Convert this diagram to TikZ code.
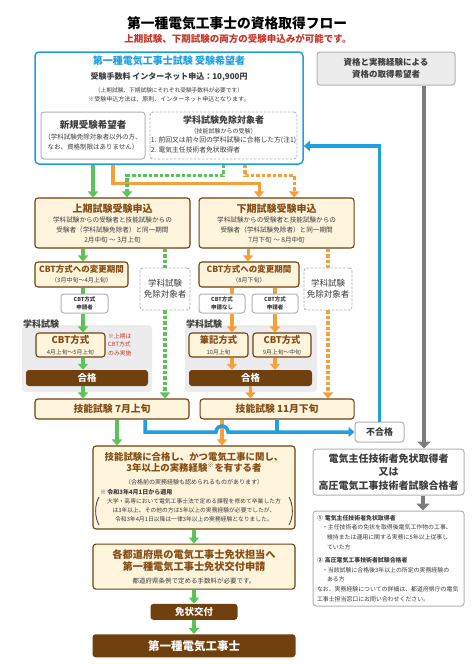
\documentclass[tikz,border=0pt]{standalone}
\usepackage{fontspec}
\setmainfont{Noto Sans CJK JP}
\usepackage{xcolor}
\usetikzlibrary{arrows.meta, positioning}
\definecolor{flowblue}{RGB}{29,161,226}
\definecolor{flowgreen}{RGB}{92,195,88}
\definecolor{floworange}{RGB}{246,160,60}
\definecolor{flowbrown}{RGB}{112,64,14}
\definecolor{brownhead}{RGB}{133,76,22}
\definecolor{flowcream}{RGB}{255,244,220}
\definecolor{flowred}{RGB}{200,52,40}
\definecolor{flowgray}{RGB}{125,125,125}
\definecolor{linegray}{RGB}{178,178,178}
\definecolor{boxgray}{RGB}{236,236,236}
\definecolor{areagray}{RGB}{236,236,238}
\definecolor{textdark}{RGB}{60,60,60}
\newcommand{\fsz}[2]{\fontsize{#1}{#2}\selectfont}

\tikzset{
  appbox/.style={draw=flowbrown, line width=1.1pt, rounded corners=3pt, fill=flowcream,
    align=center, inner sep=0pt, text=textdark},
  graybox/.style={draw=linegray, line width=1pt, rounded corners=3pt, fill=white,
    align=center, inner sep=0pt, text=textdark},
  dashbox/.style={draw=linegray, line width=0.9pt, dash pattern=on 2.5pt off 1.5pt,
    rounded corners=3pt, fill=white, align=center, inner sep=0pt, text=textdark},
  passbar/.style={fill=flowbrown, rounded corners=3pt, inner sep=0pt, text=white,
    font=\fsz{9.5}{11}\bfseries},
  areabg/.style={fill=areagray, rounded corners=4pt, inner sep=0pt},
  arealabel/.style={text=textdark, inner sep=0pt, font=\fsz{9}{11}\bfseries},
  greenline/.style={draw=flowgreen, line width=3.2pt},
  greendash/.style={greenline, dash pattern=on 3.5pt off 2pt},
  orangeline/.style={draw=floworange, line width=3.2pt},
  orangedash/.style={orangeline, dash pattern=on 3.5pt off 2pt},
  blueline/.style={draw=flowblue, line width=3.5pt},
  grayline/.style={draw=flowgray, line width=4.5pt},
  flowtip/.style={-{Triangle[length=6pt, width=10pt]}},
  graytip/.style={-{Triangle[length=7pt, width=13pt]}},
}

\begin{document}
\begin{tikzpicture}[x=1pt, y=-1pt]
  \fill[white] (0,0) rectangle (474,664);
  \useasboundingbox (0,0) rectangle (474,664);

  \node[font=\fsz{13.75}{16}\bfseries] (title) at (237,23) {第一種電気工事士の資格取得フロー};
  \node[font=\fsz{9.5}{11}\bfseries, text=flowred] (subtitle) at (238,38.5)
    {上期試験、下期試験の両方の受験申込みが可能です。};

  \node[draw=flowblue, line width=1.5pt, rounded corners=4pt, fill=white, minimum width=268pt,
        minimum height=112pt, inner sep=0pt] (applicant) at (169,108) {};
  \node[anchor=north, align=center, inner sep=0pt, text=textdark, font=\fsz{6}{9}] (appText) at (169,56)
    {{\fsz{10}{12}\bfseries\color{flowblue}第一種電気工事士試験 受験希望者}\\[6pt]
     {\fsz{8}{10}\bfseries 受験手数料 インターネット申込：10,900円}\\[4pt]
     {\fsz{5.7}{9}（上期試験、下期試験にそれぞれ受験手数料が必要です）}\\
     ※受験申込方法は、原則、インターネット申込となります。};
  \node[graybox, minimum width=104pt, minimum height=47pt, font=\fsz{6.5}{10}] (newcomer) at (93,135.5)
    {{\fsz{9.5}{11}\bfseries 新規受験希望者}\\[1pt]（学科試験免除対象者以外の方、\\なお、資格制限はありません）};
  \node[dashbox, minimum width=147pt, minimum height=47pt, font=\fsz{6}{10}] (exempt) at (223.5,135.5)
    {{\fsz{9}{11}\bfseries 学科試験免除対象者}\\（技能試験からの受験）\\
     {\fsz{6.8}{10.5}\begin{tabular}{@{}l@{}}1. 前回又は前々回の学科試験に合格した方(注1)\\
      2. 電気主任技術者免状取得者\end{tabular}}};

  \node[graybox, fill=boxgray, minimum width=138pt, minimum height=33pt, font=\fsz{8.5}{12}\bfseries]
    (career) at (386,68.5) {資格と実務経験による\\資格の取得希望者};

  \node[appbox, minimum width=155pt, minimum height=50pt, font=\fsz{6.6}{10}] (kami) at (112.5,223)
    {{\fsz{10}{12}\bfseries\color{brownhead}上期試験受験申込}\\学科試験からの受験者と技能試験からの\\
     受験者（学科試験免除者）と同一期間\\2月中旬 ～ 3月上旬};
  \node[appbox, minimum width=155pt, minimum height=50pt, font=\fsz{6.6}{10}, right=8pt of kami] (shimo)
    {{\fsz{10}{12}\bfseries\color{brownhead}下期試験受験申込}\\学科試験からの受験者と技能試験からの\\
     受験者（学科試験免除者）と同一期間\\7月下旬 ～ 8月中旬};

  \node[appbox, minimum width=93pt, minimum height=25pt, font=\fsz{6}{10}] (kamiChange) at (81.5,274.5)
    {{\fsz{8.5}{10}\bfseries\color{brownhead}CBT方式への変更期間}\\（3月中旬～4月上旬）};
  \node[appbox, minimum width=100pt, minimum height=25pt, font=\fsz{6}{10}] (shimoChange) at (249,274.5)
    {{\fsz{8.5}{10}\bfseries\color{brownhead}CBT方式への変更期間}\\（8月下旬）};

  \node[graybox, minimum width=47pt, minimum height=19pt, font=\fsz{5.5}{7.5}\bfseries] (kamiApply)
    at (84.5,303.5) {CBT方式\\申請者};
  \node[graybox, minimum width=46pt, minimum height=19pt, font=\fsz{5.5}{7.5}\bfseries] (shimoNone)
    at (222,303.5) {CBT方式\\申請なし};
  \node[graybox, minimum width=46pt, minimum height=19pt, font=\fsz{5.5}{7.5}\bfseries] (shimoApply)
    at (275,303.5) {CBT方式\\申請者};
  \node[dashbox, minimum width=50pt, minimum height=42pt, font=\fsz{8.5}{11}] (kamiSkip) at (165,289)
    {学科試験\\免除対象者};
  \node[dashbox, minimum width=48pt, minimum height=42pt, font=\fsz{8.5}{11}] (shimoSkip) at (328,289)
    {学科試験\\免除対象者};

  \node[areabg, minimum width=130pt, minimum height=67pt] (kamiArea) at (87,358.5) {};
  \node[arealabel, anchor=west] (kamiAreaLabel) at (23,324) {学科試験};
  \node[areabg, minimum width=132pt, minimum height=67pt] (shimoArea) at (251,358.5) {};
  \node[arealabel, anchor=west] (shimoAreaLabel) at (186,324) {学科試験};

  \node[appbox, minimum width=69pt, minimum height=24pt, font=\fsz{5.8}{11}] (kamiCbt) at (70.5,345)
    {{\fsz{9.5}{11}\bfseries\color{brownhead}CBT方式}\\4月上旬～5月上旬};
  \node[text=flowred, align=left, inner sep=0pt, font=\fsz{5.8}{8.5}, anchor=west] (kamiNote)
    at (108,344.5) {※上期は\\CBT方式\\のみ実施};
  \node[appbox, minimum width=59pt, minimum height=24pt, font=\fsz{5.8}{11}] (shimoPaper) at (218.5,345)
    {{\fsz{9.3}{11}\bfseries\color{brownhead}筆記方式}\\10月上旬};
  \node[appbox, minimum width=58pt, minimum height=24pt, font=\fsz{5.8}{11}] (shimoCbt) at (282,345)
    {{\fsz{9.3}{11}\bfseries\color{brownhead}CBT方式}\\9月上旬～中旬};
  \node[passbar, minimum width=122pt, minimum height=16pt] (kamiPass) at (87,378) {合格};
  \node[passbar, minimum width=123pt, minimum height=16pt] (shimoPass) at (250.5,378) {合格};

  \node[appbox, minimum width=154pt, minimum height=20pt, font=\fsz{9.8}{12}\bfseries, text=brownhead]
    (skill7) at (112,409) {技能試験 7月上旬};
  \node[appbox, minimum width=154pt, minimum height=20pt, font=\fsz{9.8}{12}\bfseries, text=brownhead,
    right=10pt of skill7] (skill11) {技能試験 11月下旬};
  \node[graybox, minimum width=49pt, minimum height=20pt, font=\fsz{9}{11}\bfseries] (fail)
    at (379.5,432) {不合格};

  \node[appbox, minimum width=202pt, minimum height=83pt, font=\fsz{6}{9}] (skillpass) at (194,487.5)
    {{\fsz{9.4}{11}\bfseries\color{brownhead}技能試験に合格し、かつ電気工事に関し、}\\
     {\fsz{9.4}{11}\bfseries\color{brownhead}3年以上の実務経験\textsuperscript{※}を有する者}\\[4pt]
     （合格前の実務経験も認められるものがあります）\\[1pt]
     \makebox[188pt][l]{\bfseries ※ 令和3年4月1日から適用}\\
     {\fsz{5.8}{9}大学・高専において電気工事士法で定める課程を修めて卒業した方}\\
     {\fsz{5.8}{9}は3年以上、その他の方は5年以上の実務経験が必要でしたが、}\\
     {\fsz{5.8}{9}令和3年4月1日以降は一律3年以上の実務経験となりました。}};
  \node[appbox, minimum width=202pt, minimum height=45pt, font=\fsz{6.5}{12}, below=14pt of skillpass]
    (license) {{\fsz{10.2}{12}\bfseries\color{brownhead}各都道府県の電気工事士免状担当へ}\\
     {\fsz{10.2}{12}\bfseries\color{brownhead}第一種電気工事士免状交付申請}\\[1pt]
     都道府県条例で定める手数料が必要です。};
  \node[passbar, minimum width=87pt, minimum height=16pt, below=14pt of license] (issue) {免状交付};
  \node[passbar, minimum width=203pt, minimum height=23pt, font=\fsz{11.5}{14}\bfseries,
    below=14pt of issue] (final) {第一種電気工事士};

  \node[graybox, minimum width=151pt, minimum height=46pt, font=\fsz{10}{13.5}\bfseries] (chief)
    at (388.5,472) {電気主任技術者免状取得者\\又は\\高圧電気工事技術者試験合格者};
  \node[graybox, minimum width=151pt, minimum height=95pt, text width=143pt, align=left,
    font=\fsz{5.9}{9.8}, below=15pt of chief] (detail)
    {{\bfseries ① 電気主任技術者免状取得者}\\
     \hspace*{5pt}・主任技術者の免状を取得後電気工作物の工事、\\
     \hspace*{10pt}維持または運用に関する実務に5年以上従事し\\
     \hspace*{10pt}ていた方\\[3pt]
     {\bfseries ② 高圧電気工事技術者試験合格者}\\
     \hspace*{5pt}・当該試験に合格後3年以上の所定の実務経験の\\
     \hspace*{10pt}ある方\\
     なお、実務経験についての詳細は、都道府県庁の電気\\
     工事士担当窓口にお問い合わせください。};

  \draw[textdark, line width=0.8pt] (99,497) .. controls (94.5,505) and (94.5,517) .. (99,525);
  \draw[textdark, line width=0.8pt] (289,497) .. controls (293.5,505) and (293.5,517) .. (289,525);

  \coordinate (kamiAxis) at (83,0);
  \coordinate (shimoLeft) at (232,0);
  \coordinate (shimoRight) at (275,0);
  \coordinate (hopAxis) at (222,0);
  \coordinate (hop) at (216,432);

  \draw[orangeline, flowtip] ([xshift=20pt]newcomer.south |- applicant.south) -- ++(0,19)
    -| ([xshift=-17.5pt]shimo.north);
  \draw[greenline, flowtip] (newcomer.south |- applicant.south) -- (newcomer.south |- kami.north);
  \draw[greendash, flowtip] (exempt.south |- applicant.south) -- ++(0,11) -| ([xshift=14.5pt]kami.north);
  \draw[orangedash, flowtip] ([xshift=21.5pt]exempt.south |- applicant.south) -- ++(0,11)
    -| ([xshift=17.5pt]shimo.north);

  \draw[greenline, flowtip] (kamiAxis |- kami.south) -- (kamiAxis |- kamiChange.north);
  \draw[greenline] (kamiAxis |- kamiChange.south) -- (kamiAxis |- kamiApply.north);
  \draw[greenline, flowtip] (kamiAxis |- kamiApply.south) -- (kamiAxis |- kamiCbt.north);
  \draw[greenline, flowtip] (kamiAxis |- kamiCbt.south) -- (kamiAxis |- kamiPass.north);
  \draw[greenline, flowtip] (kamiAxis |- kamiPass.south) -- (kamiAxis |- skill7.north);
  \draw[greendash] (kamiSkip |- kami.south) -- (kamiSkip.north);
  \draw[greendash, flowtip] (kamiSkip.south) -- (kamiSkip |- skill7.north);

  \draw[orangeline, flowtip] ([xshift=-28.5pt]shimo.south) -- ([xshift=-28.5pt]shimo.south |- shimoChange.north);
  \draw[orangeline] (shimoLeft |- shimoChange.south) -- (shimoLeft |- shimoNone.north);
  \draw[orangeline] (shimoRight |- shimoChange.south) -- (shimoRight |- shimoApply.north);
  \draw[orangeline, flowtip] (shimoLeft |- shimoNone.south) -- (shimoLeft |- shimoPaper.north);
  \draw[orangeline, flowtip] (shimoRight |- shimoApply.south) -- (shimoRight |- shimoCbt.north);
  \draw[orangeline, flowtip] (shimoLeft |- shimoPaper.south) -- (shimoLeft |- shimoPass.north);
  \draw[orangeline, flowtip] (shimoRight |- shimoCbt.south) -- (shimoRight |- shimoPass.north);
  \draw[orangeline, flowtip] (shimoPass.south) -- (shimoPass.south |- skill11.north);
  \draw[orangedash] (shimoSkip |- shimo.south) -- (shimoSkip.north);
  \draw[orangedash, flowtip] (shimoSkip.south) -- (shimoSkip |- skill11.north);

  \draw[greenline, flowtip] ([xshift=5pt]skill7.south) -- ([xshift=5pt]skill7.south |- skillpass.north);
  \draw[orangeline, flowtip] (hopAxis |- skill11.south) -- (hopAxis |- skillpass.north);
  \draw[blueline, flowtip] ([xshift=33pt]skill7.south) |- (hop) arc[start angle=180, end angle=0, radius=6pt]
    -- (fail.west);
  \draw[blueline] (skill11.south) -- (skill11.south |- fail.west);
  \draw[blueline, flowtip] (fail.north) |- ([yshift=-38pt]applicant.east);

  \draw[greenline, flowtip] (skillpass.south) -- (license.north);
  \draw[greenline, flowtip] (license.south) -- (issue.north);
  \draw[greenline, flowtip] (issue.south) -- (final.north);

  \draw[grayline, graytip] ([xshift=38pt]career.south) -- ([xshift=38pt]career.south |- chief.north);
  \draw[grayline, graytip] ([xshift=34.5pt]chief.south) -- ([xshift=34.5pt]chief.south |- detail.north);
\end{tikzpicture}
\end{document}
